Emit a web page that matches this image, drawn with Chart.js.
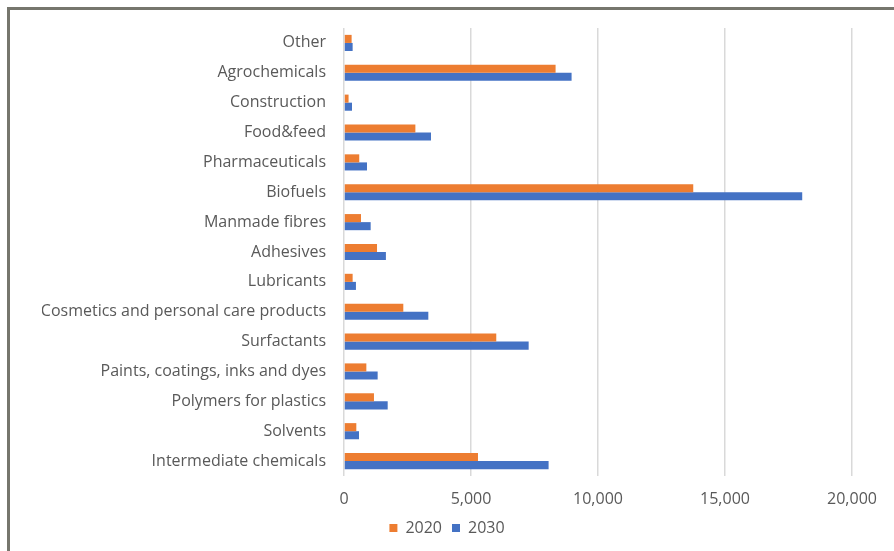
<!DOCTYPE html>
<html>
<head>
<meta charset="utf-8">
<script src="https://cdn.jsdelivr.net/npm/chart.js@4/dist/chart.umd.min.js"></script>
<style>
  body { margin: 0; background: #fff; }
  #wrap { position: relative; width: 894px; height: 551px; }
  #frame { position: absolute; left: 7px; top: 7px; right: -10px; bottom: -10px;
           border-left: 3px solid #76766d; border-top: 3px solid #76766d; }
  canvas { position: absolute; left: 0; top: 0; }
</style>
</head>
<body>
<div id="wrap">
  <div id="frame"></div>
  <canvas id="chart" width="894" height="551"></canvas>
</div>
<script>
const categories = [
  "Other", "Agrochemicals", "Construction", "Food&feed", "Pharmaceuticals",
  "Biofuels", "Manmade fibres", "Adhesives", "Lubricants",
  "Cosmetics and personal care products", "Surfactants",
  "Paints, coatings, inks and dyes", "Polymers for plastics", "Solvents",
  "Intermediate chemicals"
];
const values2020 = [300, 8330, 180, 2810, 600, 13750, 670, 1300, 340, 2335, 5995, 880, 1180, 485, 5275];
const values2030 = [340, 8960, 315, 3425, 905, 18040, 1050, 1650, 470, 3320, 7270, 1325, 1720, 590, 8055];
const xTicks = [0, 5000, 10000, 15000, 20000];

const ctx = document.querySelector('#chart').getContext('2d');
const textColor = '#595959';
const font = { family: 'Open Sans', size: 16 };

new Chart(ctx, {
  type: 'bar',
  data: {
    labels: categories,
    datasets: [
      { label: '2020', data: values2020, backgroundColor: '#ed7d31', barPercentage: 1, categoryPercentage: 0.54 },
      { label: '2030', data: values2030, backgroundColor: '#4472c4', barPercentage: 1, categoryPercentage: 0.54 }
    ]
  },
  options: {
    indexAxis: 'y',
    responsive: false,
    animation: false,
    // left/right padding kept equal so the legend centres like the original
    layout: { padding: { top: 28, right: 42, left: 42, bottom: 5 } },
    scales: {
      x: {
        min: 0, max: 20000,
        afterBuildTicks: (scale) => { scale.ticks = xTicks.map(v => ({ value: v })); },
        afterFit: (scale) => { scale.height = 34; },
        grid: { color: '#d9d9d9', lineWidth: 1.5, drawTicks: false },
        border: { display: false },
        ticks: { color: textColor, font: font, padding: 14,
                 callback: (v) => v.toLocaleString('en-US') }
      },
      y: {
        afterFit: (scale) => { scale.width = 302; },
        grid: { display: false },
        border: { display: false },
        ticks: { color: textColor, font: font, padding: 10, autoSkip: false }
      }
    },
    plugins: {
      legend: {
        position: 'bottom',
        labels: { color: textColor, font: font, boxWidth: 8, boxHeight: 8, padding: 10 }
      },
      tooltip: { enabled: false }
    }
  }
});
</script>
</body>
</html>
